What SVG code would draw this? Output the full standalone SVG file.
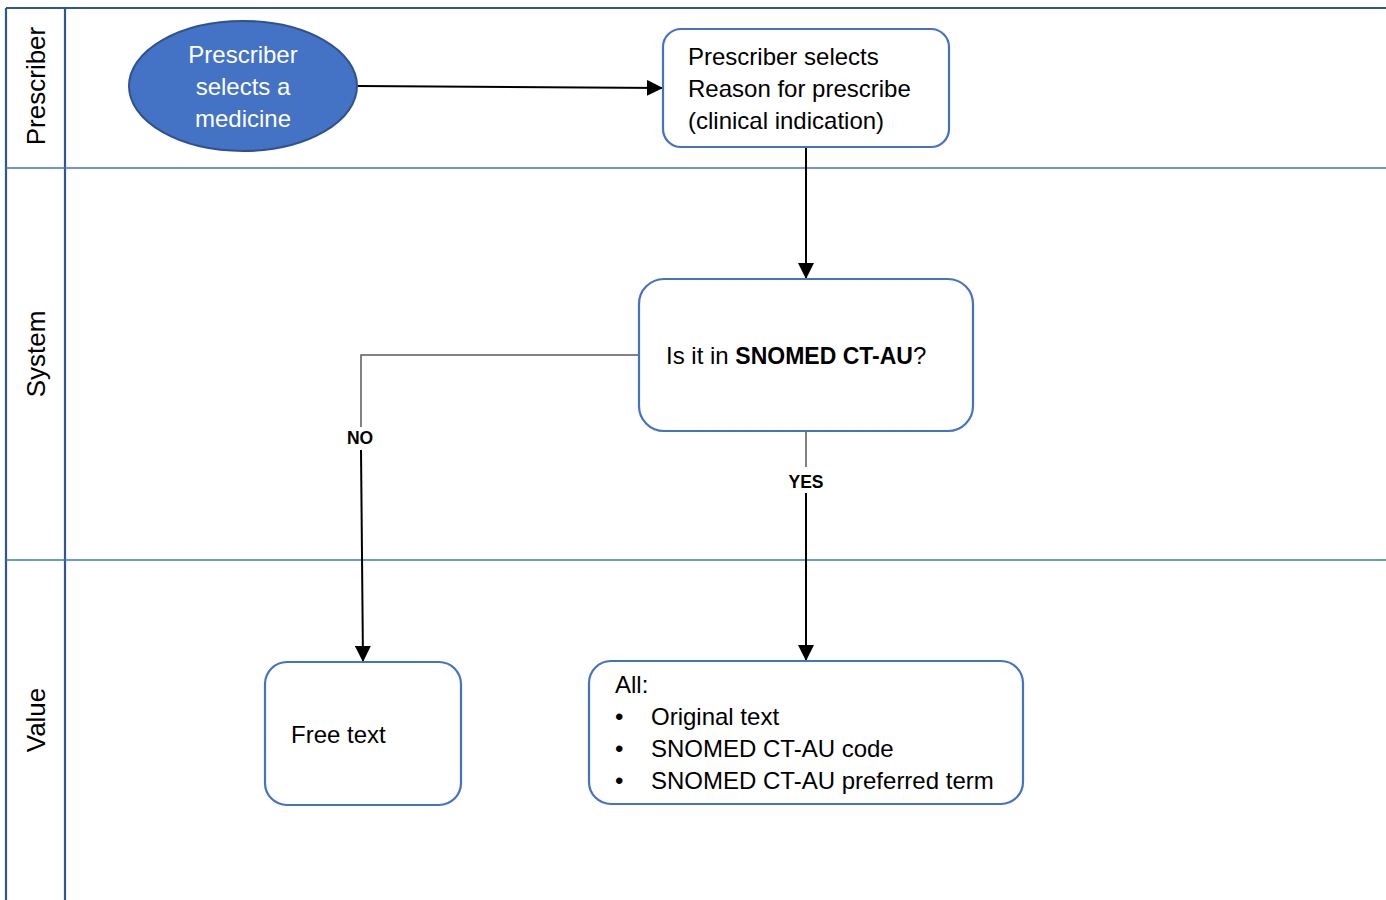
<svg xmlns="http://www.w3.org/2000/svg" width="1386" height="900" viewBox="0 0 1386 900">
  <style>
    text { font-family: "Liberation Sans", Arial, sans-serif; font-size: 24px; fill: #000; }
    .lane { stroke: #4472C4; stroke-width: 1.3; fill: none; }
    .frame { stroke: #2F5597; stroke-width: 2.2; fill: none; }
    .box { fill: #fff; stroke: #4472C4; stroke-width: 2.2; }
    .lane-title { font-size: 26px; text-anchor: middle; }
    .lbl { font-weight: bold; font-size: 17.5px; text-anchor: middle; }
    .conn { fill: none; stroke: #000; stroke-width: 2; }
    .conn-g { fill: none; stroke: #595959; stroke-width: 1.5; }
    .white { fill: #fff; text-anchor: middle; }
  </style>
  <defs>
    <marker id="arrow" viewBox="0 0 10 10" refX="10" refY="5" markerWidth="8" markerHeight="8" orient="auto">
      <path d="M0,0 L10,5 L0,10 z" fill="#000"/>
    </marker>
  </defs>

  <rect width="1386" height="900" fill="#fff"/>

  <!-- swimlane frame -->
  <g id="lanes">
    <line class="frame" x1="6" y1="8" x2="1386" y2="8"/>
    <line class="frame" x1="6" y1="8" x2="6" y2="900"/>
    <line class="frame" x1="65" y1="8" x2="65" y2="900"/>
    <line class="lane" x1="6" y1="168" x2="1386" y2="168"/>
    <line class="lane" x1="6" y1="560" x2="1386" y2="560"/>
    <text class="lane-title" transform="translate(45,86) rotate(-90)">Prescriber</text>
    <text class="lane-title" transform="translate(45,354) rotate(-90)">System</text>
    <text class="lane-title" transform="translate(45,720) rotate(-90)">Value</text>
  </g>

  <!-- connectors -->
  <g id="connectors">
    <line class="conn" x1="358" y1="86" x2="663" y2="88" marker-end="url(#arrow)"/>
    <line class="conn" x1="806" y1="147" x2="806" y2="279" marker-end="url(#arrow)" stroke="#262626"/>
    <polyline class="conn-g" points="639,355 361,355 361,427"/>
    <line class="conn" x1="361" y1="450" x2="363" y2="662" marker-end="url(#arrow)"/>
    <line class="conn-g" x1="806" y1="431" x2="806" y2="467"/>
    <line class="conn" x1="806" y1="493" x2="806" y2="661" marker-end="url(#arrow)"/>
    <text class="lbl" x="360" y="444">NO</text>
    <text class="lbl" x="806" y="488">YES</text>
  </g>

  <g id="start">
    <ellipse cx="243" cy="86" rx="114" ry="65" fill="#4472C4" stroke="#2F528F" stroke-width="2"/>
    <text class="white" x="243" y="63">Prescriber</text>
    <text class="white" x="243" y="95">selects a</text>
    <text class="white" x="243" y="127">medicine</text>
  </g>

  <g id="reason">
    <rect class="box" x="663" y="29" width="286" height="118" rx="18"/>
    <text x="688" y="65">Prescriber selects</text>
    <text x="688" y="97">Reason for prescribe</text>
    <text x="688" y="129">(clinical indication)</text>
  </g>

  <g id="decision">
    <rect class="box" x="639" y="279" width="334" height="152" rx="25"/>
    <text x="666" y="364">Is it in <tspan font-weight="bold" font-size="23px">SNOMED CT-AU</tspan>?</text>
  </g>

  <g id="free-text">
    <rect class="box" x="265" y="662" width="196" height="143" rx="22"/>
    <text x="291" y="743">Free text</text>
  </g>

  <g id="all-values">
    <rect class="box" x="589" y="661" width="434" height="143" rx="22"/>
    <text x="615" y="693">All:</text>
    <text x="615" y="725">•</text>
    <text x="651" y="725">Original text</text>
    <text x="615" y="757">•</text>
    <text x="651" y="757">SNOMED CT-AU code</text>
    <text x="615" y="789">•</text>
    <text x="651" y="789">SNOMED CT-AU preferred term</text>
  </g>
</svg>
